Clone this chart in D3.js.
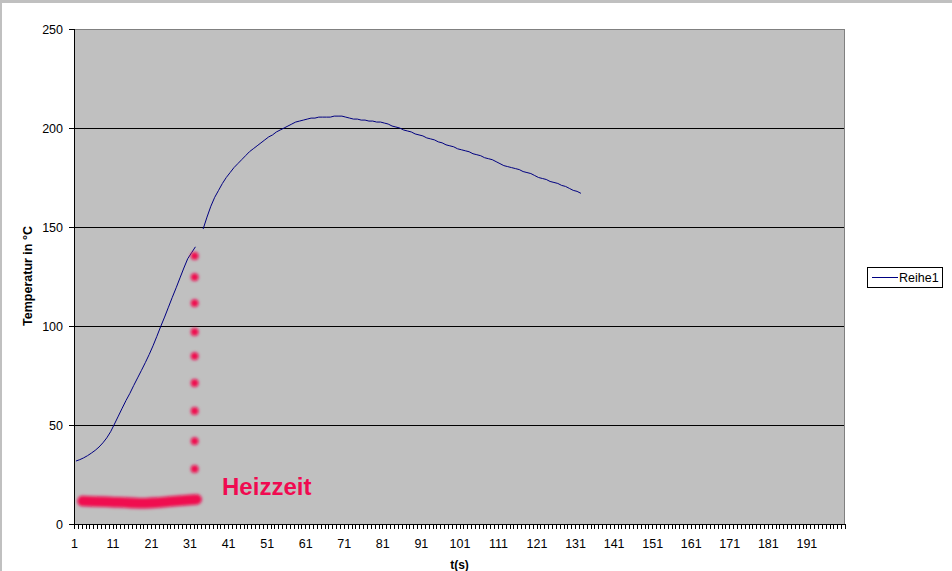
<!DOCTYPE html>
<html>
<head>
<meta charset="utf-8">
<script src="https://cdn.jsdelivr.net/npm/d3@7"></script>
<style>
  body { margin: 0; background: #fff; }
  text { font-family: "Liberation Sans", Arial, sans-serif; }
</style>
</head>
<body>
<div id="chart"></div>
<script>
let width = 952;
let height = 571;

// Reihe1: temperature per time step, category 33 has no value
let categories = d3.range(1, 201);
let reihe1 = [
  31.8, 32.5, 33.4, 34.5, 35.8, 37.2, 38.9, 41, 43.5, 46.6,
  50.5, 54.5, 58.5, 62.4, 66, 70, 73.8, 77.6, 81.5, 85.6,
  90, 94.8, 99.8, 104.5, 109.5, 114.5, 119.3, 124.3, 129.3, 134,
  137, 140, null, 149, 155, 160.5, 165, 168.5, 172, 175,
  177.5, 180, 182, 184, 186, 188, 189.5, 191, 192.5, 194,
  195.5, 196.5, 198, 199, 200, 201, 202, 203, 203.5, 204,
  204.5, 205, 205, 205.5, 205.5, 205.5, 205.5, 206, 206, 206,
  205.5, 205, 204.5, 204.5, 204, 204, 203.5, 203.5, 203, 203,
  202.5, 202, 201, 200.5, 200, 199, 198.5, 198, 197, 196.5,
  196, 195, 194.5, 194, 193, 192.5, 191.5, 191, 190.5, 189.5,
  189, 188.5, 188, 187, 186.5, 186, 185, 184.5, 184, 183,
  182, 181, 180.5, 180, 179.5, 179, 178, 177.5, 177, 176,
  175, 174.5, 174, 173, 172.5, 172, 171, 170.5, 169.5, 168.5,
  168, 167
];
let yTicks = [0, 50, 100, 150, 200, 250];
let xTickLabels = d3.range(1, 201, 10);

// hand drawn "Heizzeit" marker, in category / value units
let heizLine = [[2.7, 11.6], [10, 11.3], [17.6, 10.1], [25.4, 11.4], [32.3, 12.4]];
let heizDots = [135.4, 124.7, 111.6, 97, 84.8, 71.2, 57.1, 41.9, 27.8];
let heizDotCat = 31.8;
let heizLabel = { text: 'Heizzeit', cat: 38.9, value: 14.6 };

let plot = { left: 74, top: 29, right: 845, bottom: 524 };
let red = '#f00a50';

let svg = d3.select('#chart')
    .append('svg')
    .attr('width', width)
    .attr('height', height);

let defs = svg.append('defs');
defs.append('filter').attr('id', 'blur')
    .attr('x', '-50%').attr('y', '-50%').attr('width', '200%').attr('height', '200%')
    .append('feGaussianBlur').attr('stdDeviation', 1.5);

// window frame
svg.append('rect').attr('x', 0).attr('y', 0).attr('width', width).attr('height', 3).attr('fill', '#c0c0c0');
svg.append('rect').attr('x', 0).attr('y', 0).attr('width', 2).attr('height', height).attr('fill', '#c0c0c0');

let x = d3.scaleLinear().domain([0.5, 200.5]).range([plot.left, plot.right]);
let y = d3.scaleLinear().domain([0, 250]).range([plot.bottom, plot.top]);

// plot area
svg.append('rect')
    .attr('x', plot.left + 0.5).attr('y', plot.top + 0.5)
    .attr('width', plot.right - plot.left - 1).attr('height', plot.bottom - plot.top)
    .attr('fill', '#c0c0c0')
    .attr('stroke', '#808080');

// gridlines
svg.append('g').selectAll('line')
    .data(yTicks.filter(d => d > 0 && d < 250))
    .enter().append('line')
    .attr('x1', plot.left).attr('x2', plot.right - 1)
    .attr('y1', d => Math.round(y(d)) + 0.5).attr('y2', d => Math.round(y(d)) + 0.5)
    .attr('stroke', 'black');

// y axis
let yAxis = svg.append('g');
yAxis.append('line')
    .attr('x1', plot.left + 0.5).attr('x2', plot.left + 0.5)
    .attr('y1', plot.top).attr('y2', plot.bottom + 1)
    .attr('stroke', 'black');
yAxis.selectAll('.tick')
    .data(yTicks)
    .enter().append('line')
    .attr('x1', plot.left - 5).attr('x2', plot.left)
    .attr('y1', d => Math.round(y(d)) + 0.5).attr('y2', d => Math.round(y(d)) + 0.5)
    .attr('stroke', 'black');
yAxis.selectAll('text')
    .data(yTicks)
    .enter().append('text')
    .attr('x', plot.left - 11)
    .attr('y', d => y(d) + 4.5)
    .attr('text-anchor', 'end')
    .style('font-size', '12.5px')
    .text(d => d);

// x axis
let xAxis = svg.append('g');
xAxis.append('line')
    .attr('x1', plot.left).attr('x2', plot.right)
    .attr('y1', plot.bottom + 0.5).attr('y2', plot.bottom + 0.5)
    .attr('stroke', 'black');
xAxis.selectAll('.tick')
    .data(d3.range(0, categories.length + 1))
    .enter().append('line')
    .attr('x1', d => Math.round(x(d + 0.5)) + 0.5).attr('x2', d => Math.round(x(d + 0.5)) + 0.5)
    .attr('y1', plot.bottom).attr('y2', plot.bottom + 5)
    .attr('stroke', 'black');
xAxis.selectAll('text')
    .data(xTickLabels)
    .enter().append('text')
    .attr('x', d => x(d) - 1.5)
    .attr('y', 548)
    .attr('text-anchor', 'middle')
    .style('font-size', '12.5px')
    .text(d => d);

// axis titles
svg.append('text')
    .attr('x', (plot.left + plot.right) / 2)
    .attr('y', 569)
    .attr('text-anchor', 'middle')
    .style('font-size', '12px')
    .style('font-weight', 'bold')
    .text('t(s)');
svg.append('text')
    .attr('transform', 'translate(32,276) rotate(-90)')
    .attr('text-anchor', 'middle')
    .style('font-size', '12.5px')
    .style('font-weight', 'bold')
    .text('Temperatur in °C');

// series
let line = d3.line()
    .defined(d => d != null)
    .x((d, i) => x(categories[i]))
    .y(d => y(d));
svg.append('path')
    .datum(reihe1)
    .attr('d', line)
    .attr('fill', 'none')
    .attr('stroke', '#000080')
    .attr('stroke-width', 1);

// Heizzeit marker
let heiz = svg.append('g').attr('filter', 'url(#blur)');
heiz.append('path')
    .datum(heizLine)
    .attr('d', d3.line().curve(d3.curveBasis).x(d => x(d[0])).y(d => y(d[1])))
    .attr('fill', 'none')
    .attr('stroke', red)
    .attr('stroke-width', 10.5)
    .attr('stroke-linecap', 'round');
heiz.selectAll('circle')
    .data(heizDots)
    .enter().append('circle')
    .attr('cx', x(heizDotCat))
    .attr('cy', d => y(d))
    .attr('r', 3.9)
    .attr('fill', red);
svg.append('text')
    .attr('x', x(heizLabel.cat))
    .attr('y', y(heizLabel.value))
    .style('font-size', '24px')
    .style('font-weight', 'bold')
    .attr('fill', red)
    .text(heizLabel.text);

// legend
let legend = svg.append('g');
legend.append('rect')
    .attr('x', 867.5).attr('y', 267.5)
    .attr('width', 75).attr('height', 20)
    .attr('fill', 'white')
    .attr('stroke', 'black');
legend.append('line')
    .attr('x1', 872).attr('x2', 898)
    .attr('y1', 277.5).attr('y2', 277.5)
    .attr('stroke', '#000080');
legend.append('text')
    .attr('x', 899).attr('y', 282)
    .style('font-size', '12.5px')
    .text('Reihe1');
</script>
</body>
</html>
